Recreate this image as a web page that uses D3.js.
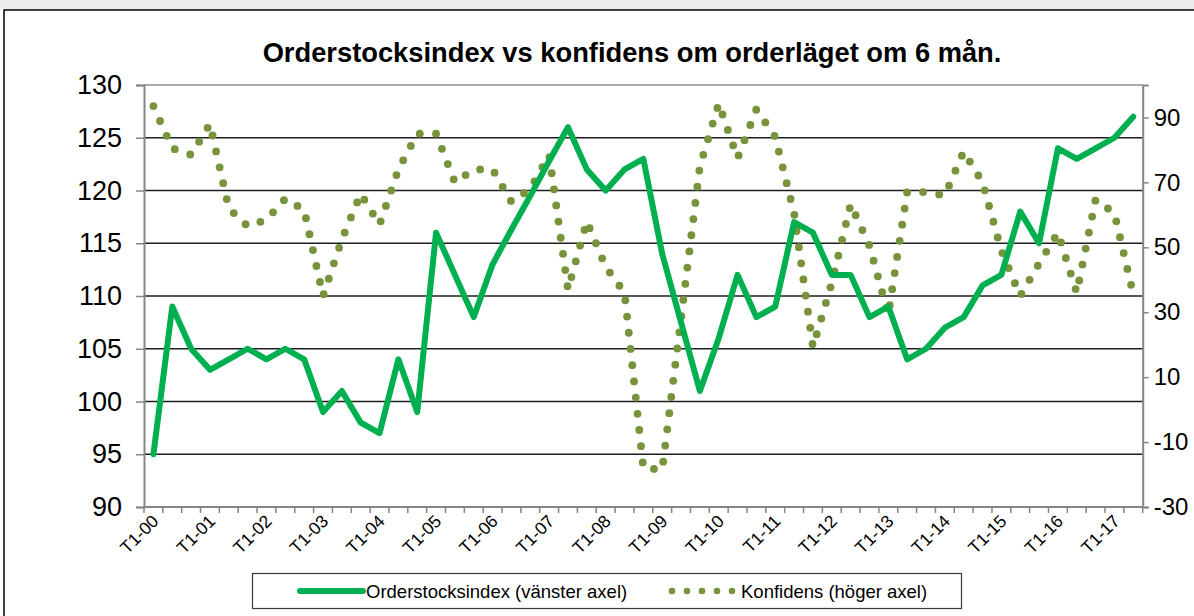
<!DOCTYPE html>
<html>
<head>
<meta charset="utf-8">
<script src="https://cdn.jsdelivr.net/npm/d3@7"></script>
<style>
  html, body { margin: 0; padding: 0; background: #ffffff; }
  svg { display: block; }
  text { font-family: "Liberation Sans", Arial, sans-serif; fill: #000; }
</style>
</head>
<body>
<svg id="chart" width="1194" height="616"></svg>
<script>
// ---- data ----
const years = d3.range(0, 18).map(y => String(y).padStart(2, "0"));
const categories = [];
years.forEach(y => ["T1", "T2", "T3"].forEach(t => categories.push(t + "-" + y)));
categories.splice(53); // T1-00 ... T2-17

const orderstocksindex = [95, 109, 105, 103, 104, 105, 104, 105, 104, 99,
  101, 98, 97, 104, 99, 116, 112, 108, 113, 116.3,
  119.5, 122.8, 126, 122, 120, 122, 123, 114, 107.5, 101,
  106, 112, 108, 109, 117, 116, 112, 112, 108, 109,
  104, 105, 107, 108, 111, 112, 118, 115, 124, 123,
  124, 125, 127];

const konfidens = [93.5, 80.5, 78.5, 88, 62, 56.5, 58.5, 65, 61.5, 35,
  52.4, 66.5, 57, 74, 85, 85, 70, 74, 74, 64,
  68, 78.5, 37, 58, 44, 36, -18, -18.5, 28, 75,
  94.3, 77.5, 92.5, 84, 60.5, 19.3, 39, 63.3, 50.5, 29.3,
  67, 67, 66, 79.5, 70, 49, 35, 45, 54.5, 36,
  64.7, 60.5, 35.5];

const leftTicks = [90, 95, 100, 105, 110, 115, 120, 125, 130];
const rightTicks = [-30, -10, 10, 30, 50, 70, 90];
const xLabelCats = categories.filter(c => c.startsWith("T1-"));

const titleText = "Orderstocksindex vs konfidens om orderläget om 6 mån.";
const seriesNames = ["Orderstocksindex (vänster axel)", "Konfidens (höger axel)"];

// ---- layout ----
const svg = d3.select("#chart");
const plot = { left: 144, right: 1142.7, top: 85, bottom: 507 };
const GREEN = "#00b050", OLIVE = "#77933c";

// outer frame
svg.append("rect").attr("x", 0).attr("y", 0).attr("width", 1194).attr("height", 9).attr("fill", "#ececec");
svg.append("rect").attr("x", 4).attr("y", 10).attr("width", 1200).attr("height", 620)
  .attr("fill", "#fff").attr("stroke", "#000").attr("stroke-width", 1.5);

const x = d3.scaleBand().domain(categories).range([plot.left, plot.right]).padding(0);
const cx = c => x(c) + x.bandwidth() / 2;
const yL = d3.scaleLinear().domain([90, 130]).range([plot.bottom, plot.top]);
const yR = d3.scaleLinear().domain([-30, 100]).range([plot.bottom, plot.top]);

// gridlines
svg.append("g").selectAll("line").data(leftTicks.filter(v => v > 90 && v < 130)).join("line")
  .attr("x1", plot.left).attr("x2", plot.right)
  .attr("y1", d => yL(d)).attr("y2", d => yL(d))
  .attr("stroke", "#1e1e1e").attr("stroke-width", 1.3);
// plot top border
svg.append("line").attr("x1", plot.left).attr("x2", plot.right).attr("y1", plot.top).attr("y2", plot.top)
  .attr("stroke", "#8c8c8c").attr("stroke-width", 1.5);

// left axis
const axL = svg.append("g").attr("transform", `translate(${plot.left},0)`)
  .call(d3.axisLeft(yL).tickValues(leftTicks).tickSize(8).tickPadding(14).tickFormat(d => String(d)));
axL.select(".domain").attr("stroke", "#868686").attr("stroke-width", 2);
axL.selectAll(".tick line").attr("stroke", "#868686").attr("stroke-width", 1.5);
axL.selectAll(".tick text").style("font-size", "27px").attr("fill", "#000").attr("font-family", "Liberation Sans, Arial, sans-serif");

// right axis
const axR = svg.append("g").attr("transform", `translate(${plot.right},0)`)
  .call(d3.axisRight(yR).tickValues(rightTicks).tickSize(6).tickPadding(5).tickFormat(d => String(d)));
axR.select(".domain").attr("stroke", "#868686").attr("stroke-width", 2);
axR.selectAll(".tick line").attr("stroke", "#868686").attr("stroke-width", 1.5);
axR.selectAll(".tick text").style("font-size", "24px").attr("fill", "#000").attr("font-family", "Liberation Sans, Arial, sans-serif");

// bottom axis: ticks at category boundaries
const gB = svg.append("g");
gB.append("line").attr("x1", plot.left).attr("x2", plot.right).attr("y1", plot.bottom).attr("y2", plot.bottom)
  .attr("stroke", "#868686").attr("stroke-width", 2);
const boundaries = categories.map(c => x(c)).concat([plot.right]);
gB.selectAll("line.tk").data(boundaries).join("line").attr("class", "tk")
  .attr("x1", d => d).attr("x2", d => d).attr("y1", plot.bottom).attr("y2", plot.bottom + 6)
  .attr("stroke", "#868686").attr("stroke-width", 1.5);
gB.selectAll("text").data(xLabelCats).join("text")
  .attr("transform", d => `translate(${cx(d) + 2},${plot.bottom + 11}) rotate(-45)`)
  .attr("text-anchor", "end").attr("dy", "0.35em")
  .style("font-size", "17.5px").text(d => d);

// lines
const lineL = d3.line().x((d, i) => cx(categories[i])).y(d => yL(d));
const lineR = d3.line().x((d, i) => cx(categories[i])).y(d => yR(d));

// dotted series: round dots placed along the data path
const dotPath = svg.append("path").datum(konfidens).attr("d", lineR)
  .attr("fill", "none").attr("stroke", "none");
const node = dotPath.node();
const total = node.getTotalLength();
const step = 16.3;
const dotPts = d3.range(0, total + 0.01, step).map(l => node.getPointAtLength(l));
svg.append("g").selectAll("circle").data(dotPts).join("circle")
  .attr("cx", p => p.x).attr("cy", p => p.y).attr("r", 3.9).attr("fill", OLIVE);

svg.append("path").datum(orderstocksindex).attr("d", lineL)
  .attr("fill", "none").attr("stroke", GREEN).attr("stroke-width", 6)
  .attr("stroke-linejoin", "round").attr("stroke-linecap", "round");

// title
svg.append("text").attr("x", 632).attr("y", 62).attr("text-anchor", "middle")
  .style("font-size", "27.3px").style("font-weight", "bold").text(titleText);

// legend
const lg = svg.append("g");
lg.append("rect").attr("x", 252.5).attr("y", 573.5).attr("width", 709).attr("height", 35)
  .attr("fill", "#fff").attr("stroke", "#3a3a3a").attr("stroke-width", 1.2);
lg.append("line").attr("x1", 300).attr("x2", 363).attr("y1", 591).attr("y2", 591)
  .attr("stroke", GREEN).attr("stroke-width", 6).attr("stroke-linecap", "round");
lg.append("text").attr("x", 366).attr("y", 597.5).style("font-size", "18.5px").text(seriesNames[0]);
lg.selectAll("circle").data(d3.range(5)).join("circle")
  .attr("cx", k => 672 + k * 15).attr("cy", 591).attr("r", 3.3).attr("fill", OLIVE);
lg.append("text").attr("x", 741).attr("y", 597.5).style("font-size", "18.5px").text(seriesNames[1]);
</script>
</body>
</html>
